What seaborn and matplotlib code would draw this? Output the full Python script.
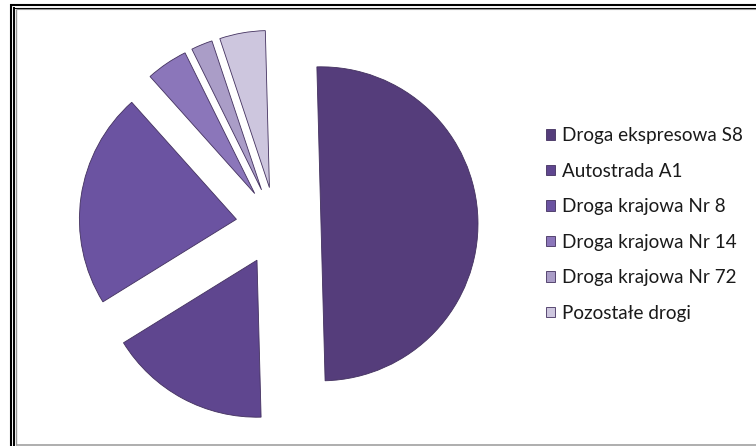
import matplotlib
matplotlib.use("Agg")
import matplotlib.pyplot as plt
import seaborn as sns
from matplotlib.lines import Line2D

sns.set_style("white")
plt.rcParams['font.family'] = ['Lato', 'DejaVu Sans']

categories = ["Droga ekspresowa S8", "Autostrada A1", "Droga krajowa Nr 8",
              "Droga krajowa Nr 14", "Droga krajowa Nr 72", "Pozostałe drogi"]
values = [50.0, 16.6, 22.2, 4.3, 2.2, 4.7]
colors = sns.color_palette(["#553d7b", "#5f468f", "#6b53a1", "#8b76ba", "#aa9dc7", "#cdc6de"])

W, H = 756, 446
fig = plt.figure(figsize=(W / 100, H / 100), dpi=100)
ax = fig.add_axes([0, 0, 1, 1])

cx, cy = 276, H - 225
R = 157
explode = [45, 40, 40, 38, 38, 38]  # offsets in pixels
wedges, _ = ax.pie(values, explode=explode, colors=colors, startangle=91.5,
                   counterclock=False, center=(cx, cy), radius=R,
                   wedgeprops=dict(edgecolor="#43315f", linewidth=0.6))
ax.set_xlim(0, W)
ax.set_ylim(0, H)
ax.set_aspect("equal")
ax.axis("off")

leg = ax.legend(wedges, categories, loc="upper left",
                bbox_to_anchor=(546 / W, 1 - 127 / H), bbox_transform=fig.transFigure,
                frameon=False, fontsize=13.6, handlelength=0.48, handleheight=0.48,
                handletextpad=0.37, labelspacing=0.98, borderpad=0, borderaxespad=0)
for t in leg.get_texts():
    t.set_color("#1a1a1a")

def fl(x0, y0, x1, y1, color, lw):
    fig.add_artist(Line2D([x0 / W, x1 / W], [1 - y0 / H, 1 - y1 / H],
                          transform=fig.transFigure, color=color, linewidth=lw,
                          solid_capstyle="butt"))

# double frame (cut at right and bottom)
fl(10, 5, 756, 5, "black", 1.5)
fl(11, 4, 11, 446, "black", 1.5)
fl(13, 7.5, 756, 7.5, "black", 0.8)
fl(14, 7, 14, 446, "black", 1.4)
fl(15.5, 8.7, 756, 8.7, "#999999", 0.8)
fl(15.6, 8.5, 15.6, 445, "#999999", 1.0)
fl(15.5, 444.5, 756, 444.5, "#999999", 1.1)

fig.savefig("out.png", dpi=100)
